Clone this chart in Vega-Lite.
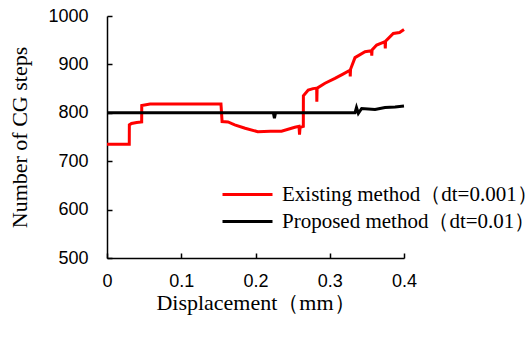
{
  "$schema": "https://vega.github.io/schema/vega-lite/v6.json",
  "width": 297,
  "height": 242,
  "autosize": {"type": "none"},
  "padding": {"left": 107, "top": 16, "right": 128, "bottom": 82},
  "background": "white",
  "config": {
    "view": {"stroke": null},
    "axis": {
      "grid": false,
      "domainColor": "black",
      "domainWidth": 1.5,
      "tickColor": "black",
      "tickWidth": 1.5,
      "tickSize": -5,
      "labelFlush": false,
      "labelOverlap": false,
      "labelFont": "Liberation Sans",
      "labelFontSize": 18,
      "labelColor": "black",
      "titleFont": "Liberation Serif",
      "titleFontSize": 22,
      "titleFontWeight": "normal",
      "titleColor": "black"
    },
    "legend": {
      "labelFont": "Liberation Serif",
      "labelFontSize": 21,
      "labelColor": "black",
      "labelLimit": 400
    }
  },
  "data": {
    "values": [
      {"x": 0.0, "y": 735, "m": "Existing"},
      {"x": 0.030, "y": 735, "m": "Existing"},
      {"x": 0.0301, "y": 775, "m": "Existing"},
      {"x": 0.033, "y": 778, "m": "Existing"},
      {"x": 0.040, "y": 780, "m": "Existing"},
      {"x": 0.0467, "y": 781, "m": "Existing"},
      {"x": 0.0468, "y": 815, "m": "Existing"},
      {"x": 0.058, "y": 818, "m": "Existing"},
      {"x": 0.100, "y": 818, "m": "Existing"},
      {"x": 0.1535, "y": 818, "m": "Existing"},
      {"x": 0.155, "y": 782, "m": "Existing"},
      {"x": 0.163, "y": 781, "m": "Existing"},
      {"x": 0.172, "y": 775, "m": "Existing"},
      {"x": 0.186, "y": 768, "m": "Existing"},
      {"x": 0.203, "y": 761, "m": "Existing"},
      {"x": 0.220, "y": 762, "m": "Existing"},
      {"x": 0.235, "y": 762, "m": "Existing"},
      {"x": 0.253, "y": 770, "m": "Existing"},
      {"x": 0.2586, "y": 772, "m": "Existing"},
      {"x": 0.2593, "y": 755, "m": "Existing"},
      {"x": 0.2600, "y": 770, "m": "Existing"},
      {"x": 0.2644, "y": 772, "m": "Existing"},
      {"x": 0.2645, "y": 835, "m": "Existing"},
      {"x": 0.271, "y": 847, "m": "Existing"},
      {"x": 0.2775, "y": 850, "m": "Existing"},
      {"x": 0.2824, "y": 851, "m": "Existing"},
      {"x": 0.2826, "y": 823, "m": "Existing"},
      {"x": 0.2830, "y": 851, "m": "Existing"},
      {"x": 0.2936, "y": 861, "m": "Existing"},
      {"x": 0.307, "y": 871, "m": "Existing"},
      {"x": 0.3178, "y": 880, "m": "Existing"},
      {"x": 0.3273, "y": 888, "m": "Existing"},
      {"x": 0.3276, "y": 875, "m": "Existing"},
      {"x": 0.3280, "y": 890, "m": "Existing"},
      {"x": 0.334, "y": 914, "m": "Existing"},
      {"x": 0.3475, "y": 926, "m": "Existing"},
      {"x": 0.3563, "y": 928, "m": "Existing"},
      {"x": 0.3566, "y": 918, "m": "Existing"},
      {"x": 0.3570, "y": 930, "m": "Existing"},
      {"x": 0.3632, "y": 940, "m": "Existing"},
      {"x": 0.3744, "y": 947, "m": "Existing"},
      {"x": 0.3748, "y": 933, "m": "Existing"},
      {"x": 0.3752, "y": 948, "m": "Existing"},
      {"x": 0.3856, "y": 964, "m": "Existing"},
      {"x": 0.394, "y": 966, "m": "Existing"},
      {"x": 0.400, "y": 972, "m": "Existing"},
      {"x": 0.0, "y": 800, "m": "Proposed"},
      {"x": 0.224, "y": 800, "m": "Proposed"},
      {"x": 0.2255, "y": 789, "m": "Proposed"},
      {"x": 0.227, "y": 800, "m": "Proposed"},
      {"x": 0.334, "y": 800, "m": "Proposed"},
      {"x": 0.336, "y": 811, "m": "Proposed"},
      {"x": 0.3385, "y": 799, "m": "Proposed"},
      {"x": 0.343, "y": 809, "m": "Proposed"},
      {"x": 0.361, "y": 807, "m": "Proposed"},
      {"x": 0.3744, "y": 811, "m": "Proposed"},
      {"x": 0.388, "y": 812, "m": "Proposed"},
      {"x": 0.400, "y": 814, "m": "Proposed"}
    ]
  },
  "mark": {"type": "line", "strokeWidth": 3, "interpolate": "linear"},
  "encoding": {
    "x": {
      "field": "x",
      "type": "quantitative",
      "scale": {"domain": [0, 0.4], "nice": false},
      "axis": {
        "values": [0, 0.1, 0.2, 0.3, 0.4],
        "format": "~g",
        "title": "Displacement（mm）",
        "labelPadding": 19,
        "titleY": 51,
        "titleBaseline": "alphabetic"
      }
    },
    "y": {
      "field": "y",
      "type": "quantitative",
      "scale": {"domain": [500, 1000], "nice": false, "zero": false},
      "axis": {
        "values": [500, 600, 700, 800, 900, 1000],
        "format": "d",
        "title": "Number of CG steps",
        "labelPadding": 24,
        "titleX": -81,
        "titleY": 121,
        "titleBaseline": "alphabetic"
      }
    },
    "color": {
      "field": "m",
      "type": "nominal",
      "scale": {"domain": ["Existing", "Proposed"], "range": ["#ff0000", "#000000"]},
      "legend": {
        "title": null,
        "orient": "none",
        "legendX": 114,
        "legendY": 168,
        "symbolType": "stroke",
        "symbolSize": 2500,
        "symbolStrokeWidth": 3,
        "clipHeight": 21,
        "labelOffset": 8,
        "rowPadding": 5,
        "labelExpr": "datum.label == 'Existing' ? 'Existing method（dt=0.001）' : 'Proposed method（dt=0.01）'"
      }
    }
  }
}
